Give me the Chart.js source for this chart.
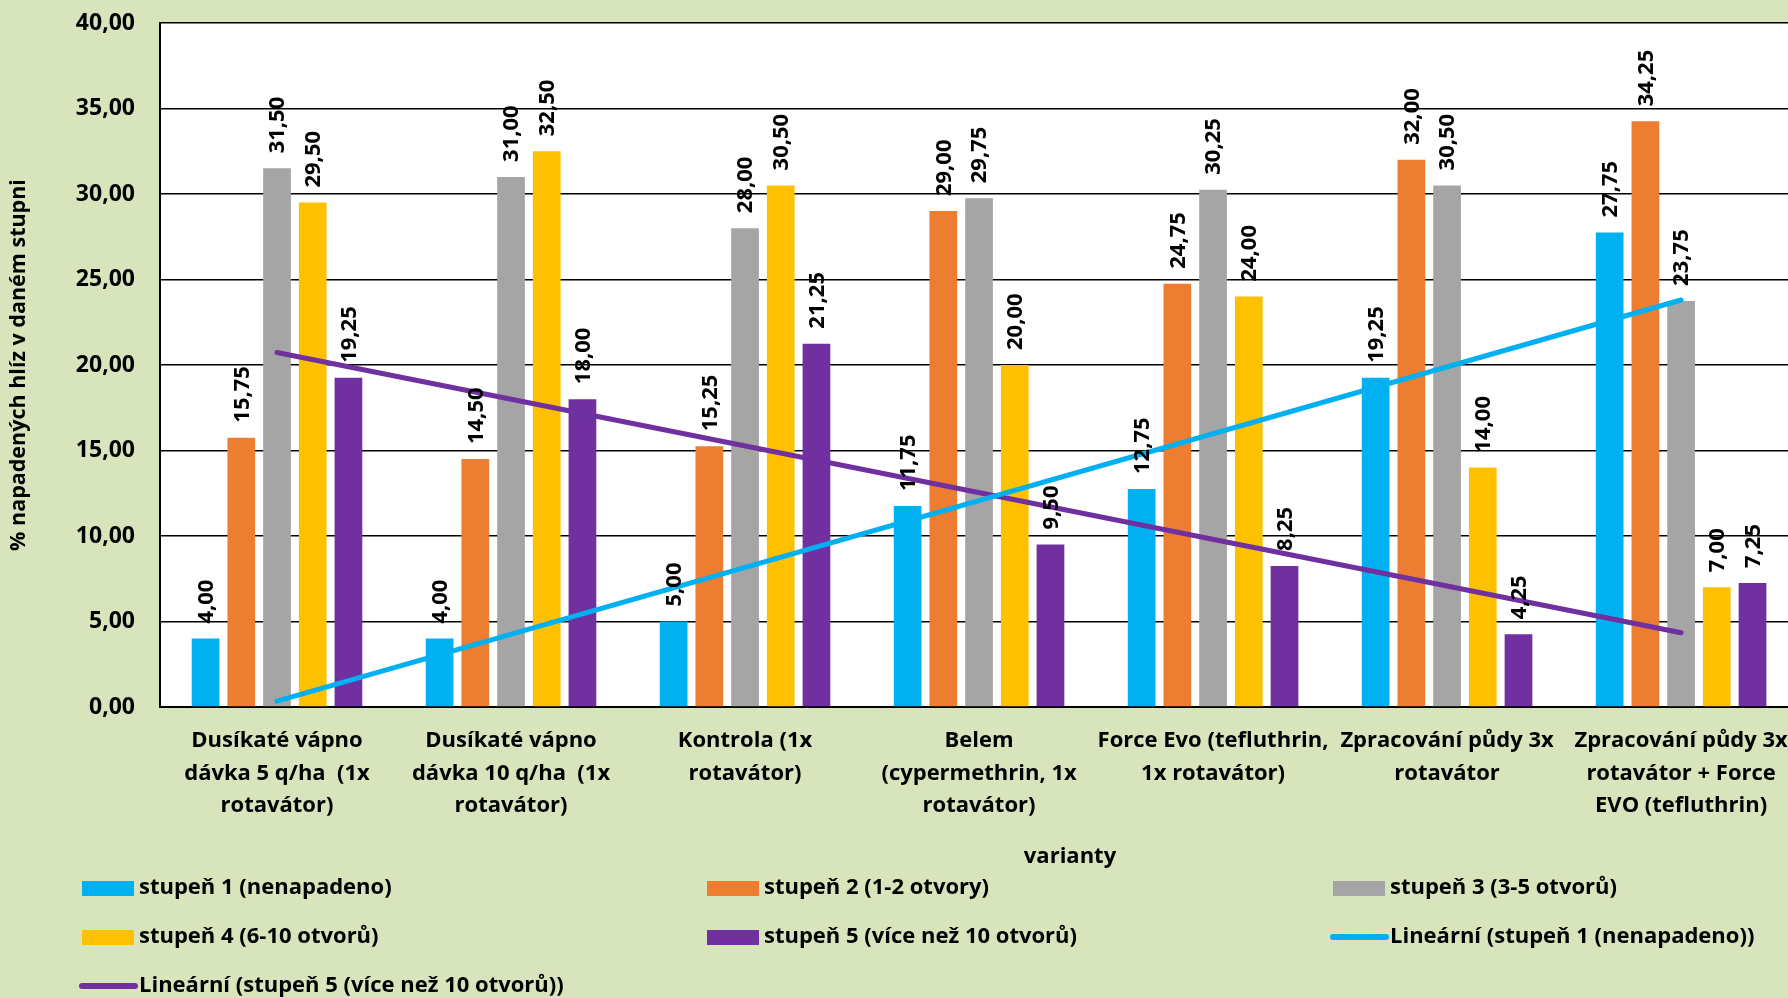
<!DOCTYPE html>
<html lang="cs">
<head>
<meta charset="utf-8">
<title>Napadení hlíz podle variant</title>
<script src="https://cdn.jsdelivr.net/npm/chart.js@4.4.1/dist/chart.umd.min.js"></script>
<style>
  html, body {
    margin: 0;
    padding: 0;
    background: #d8e4bc;
    overflow: hidden;
  }
  #wrap {
    width: 1806px;
    height: 998px;
  }
</style>
</head>
<body>
<div id="wrap">
  <canvas id="chart" width="1806" height="998"></canvas>
</div>
<script>
const categories = [
  ["Dusíkaté vápno", "dávka 5 q/ha  (1x", "rotavátor)"],
  ["Dusíkaté vápno", "dávka 10 q/ha  (1x", "rotavátor)"],
  ["Kontrola (1x", "rotavátor)"],
  ["Belem", "(cypermethrin, 1x", "rotavátor)"],
  ["Force Evo (tefluthrin,", "1x rotavátor)"],
  ["Zpracování půdy 3x", "rotavátor"],
  ["Zpracování půdy 3x", "rotavátor + Force", "EVO (tefluthrin)"],
];

const stupen1 = [4.0, 4.0, 5.0, 11.75, 12.75, 19.25, 27.75];
const stupen2 = [15.75, 14.5, 15.25, 29.0, 24.75, 32.0, 34.25];
const stupen3 = [31.5, 31.0, 28.0, 29.75, 30.25, 30.5, 23.75];
const stupen4 = [29.5, 32.5, 30.5, 20.0, 24.0, 14.0, 7.0];
const stupen5 = [19.25, 18.0, 21.25, 9.5, 8.25, 4.25, 7.25];

// linear trend lines, only the end points are needed
const trend1 = [0.34, null, null, null, null, null, 23.8];
const trend5 = [20.73, null, null, null, null, null, 4.34];

const yMin = 0;
const yMax = 40;
const yStep = 5;

const FONT = "'Open Sans', Lato, sans-serif";

const fmt = (v) => v.toFixed(2).replace(".", ",");

// white plot area on the green page
const plotBackground = {
  id: "plotBackground",
  beforeDraw(chart) {
    const { ctx, chartArea } = chart;
    ctx.save();
    ctx.fillStyle = "#ffffff";
    ctx.fillRect(chartArea.left, chartArea.top, chartArea.width, chartArea.height);
    ctx.restore();
  },
};

// rotated value labels above each bar
const barLabels = {
  id: "barLabels",
  afterDatasetsDraw(chart) {
    const ctx = chart.ctx;
    ctx.save();
    ctx.font = "bold 22px " + FONT;
    ctx.fillStyle = "#000000";
    ctx.textAlign = "left";
    ctx.textBaseline = "middle";
    chart.data.datasets.forEach((ds, i) => {
      if (ds.type === "line") return;
      const meta = chart.getDatasetMeta(i);
      meta.data.forEach((bar, j) => {
        ctx.save();
        ctx.translate(bar.x + 1, bar.y - 15);
        ctx.rotate(-Math.PI / 2);
        ctx.fillText(fmt(ds.data[j]), 0, 0);
        ctx.restore();
      });
    });
    ctx.restore();
  },
};

// axis title under the category labels and a three column legend
const legendBlock = {
  id: "legendBlock",
  afterDraw(chart) {
    const ctx = chart.ctx;
    ctx.save();
    ctx.fillStyle = "#000000";
    ctx.font = "bold 22px " + FONT;
    ctx.textAlign = "center";
    ctx.textBaseline = "middle";
    ctx.fillText("varianty", 1070, 857);

    const cols = [82, 707, 1333];
    const rows = [888, 937, 986];
    ctx.textAlign = "left";
    chart.data.datasets.forEach((ds, i) => {
      const x = cols[i % 3];
      const y = rows[Math.floor(i / 3)];
      if (ds.type === "line") {
        ctx.strokeStyle = ds.borderColor;
        ctx.lineWidth = 6;
        ctx.lineCap = "round";
        ctx.beginPath();
        ctx.moveTo(x, y);
        ctx.lineTo(x + 53, y);
        ctx.stroke();
      } else {
        ctx.fillStyle = ds.backgroundColor;
        ctx.fillRect(x, y - 7, 52, 15);
      }
      ctx.fillStyle = "#000000";
      ctx.fillText(ds.label, x + 57, y);
    });
    ctx.restore();
  },
};

new Chart("chart", {
  type: "bar",
  data: {
    labels: categories,
    datasets: [
      { label: "stupeň 1 (nenapadeno)", data: stupen1, backgroundColor: "#00b0f0", order: 2 },
      { label: "stupeň 2 (1-2 otvory)", data: stupen2, backgroundColor: "#ed7d31", order: 2 },
      { label: "stupeň 3 (3-5 otvorů)", data: stupen3, backgroundColor: "#a5a5a5", order: 2 },
      { label: "stupeň 4 (6-10 otvorů)", data: stupen4, backgroundColor: "#ffc000", order: 2 },
      { label: "stupeň 5 (více než 10 otvorů)", data: stupen5, backgroundColor: "#7030a0", order: 2 },
      {
        type: "line",
        label: "Lineární (stupeň 1 (nenapadeno))",
        data: trend1,
        borderColor: "#00b0f0",
        borderWidth: 5,
        borderCapStyle: "round",
        pointRadius: 0,
        spanGaps: true,
        order: 1,
      },
      {
        type: "line",
        label: "Lineární (stupeň 5 (více než 10 otvorů))",
        data: trend5,
        borderColor: "#7030a0",
        borderWidth: 5,
        borderCapStyle: "round",
        pointRadius: 0,
        spanGaps: true,
        order: 1,
      },
    ],
  },
  options: {
    responsive: false,
    animation: false,
    layout: {
      padding: { left: 0, top: 23, right: 3, bottom: 128 },
    },
    datasets: {
      bar: {
        categoryPercentage: 0.763,
        barPercentage: 0.776,
        borderWidth: 0,
      },
    },
    plugins: {
      legend: { display: false },
      tooltip: { enabled: false },
    },
    scales: {
      x: {
        grid: { display: false, drawTicks: false },
        border: { color: "#000000", width: 2 },
        ticks: {
          autoSkip: false,
          maxRotation: 0,
          minRotation: 0,
          padding: 18,
          color: "#000000",
          font: { family: FONT, size: 22, weight: "bold", lineHeight: 1.47 },
        },
        afterFit(scale) {
          scale.height = 163;
        },
      },
      y: {
        min: yMin,
        max: yMax,
        grid: { color: "#000000", lineWidth: 1.4, drawTicks: false },
        border: { color: "#000000", width: 2 },
        ticks: {
          stepSize: yStep,
          padding: 25,
          color: "#000000",
          font: { family: FONT, size: 23, weight: "bold" },
          callback: (value) => fmt(value),
        },
        title: {
          display: true,
          text: "% napadených hlíz v daném stupni",
          color: "#000000",
          font: { family: FONT, size: 21.5, weight: "bold" },
          padding: { top: 6, bottom: 0 },
        },
        afterFit(scale) {
          scale.width = 160;
          // tick padding should not push the plot area down
          scale.paddingTop = 0;
          scale.paddingBottom = 0;
        },
      },
    },
  },
  plugins: [plotBackground, barLabels, legendBlock],
});
</script>
</body>
</html>
